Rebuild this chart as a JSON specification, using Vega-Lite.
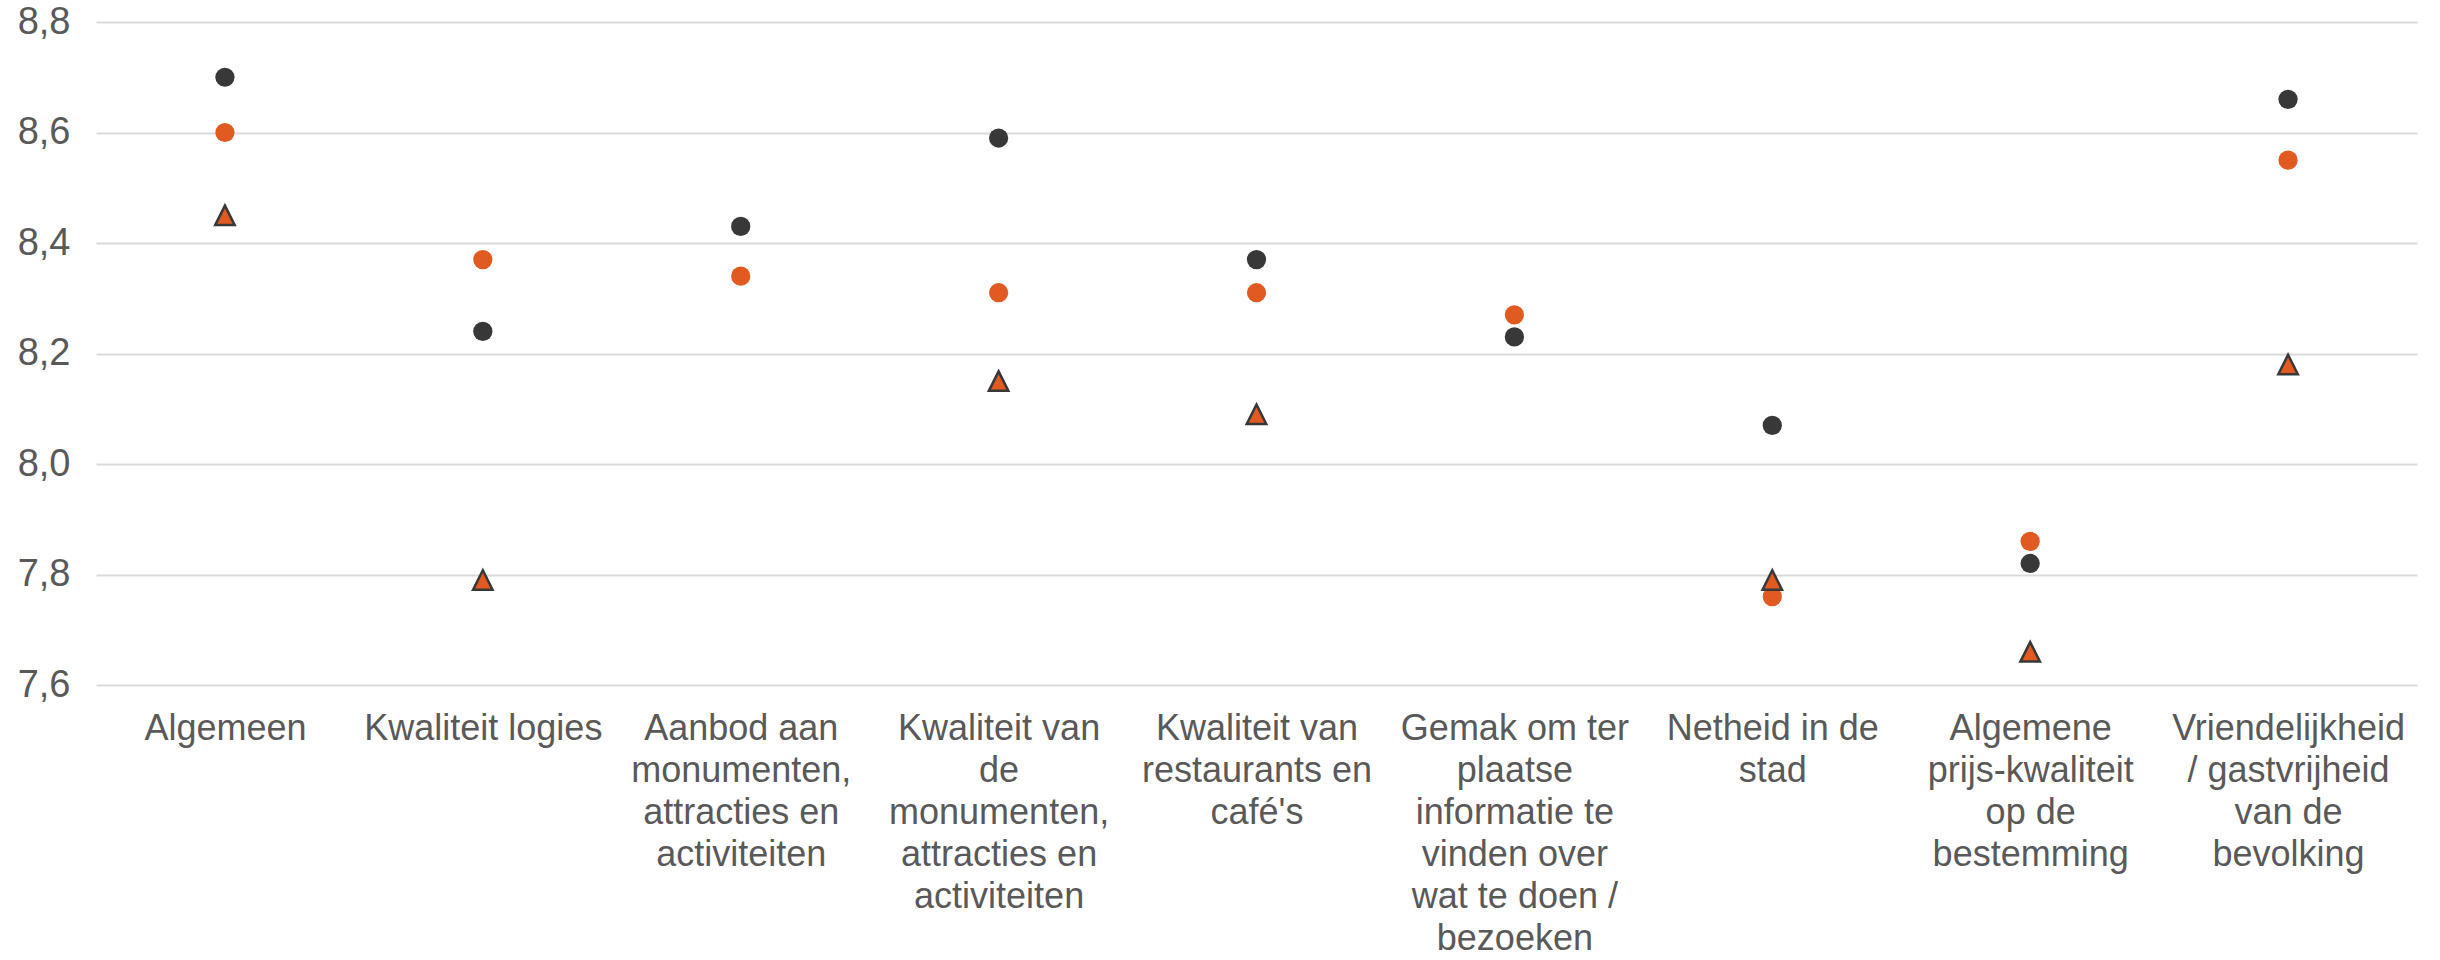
{
  "$schema": "https://vega.github.io/schema/vega-lite/v6.json",
  "autosize": "none",
  "width": 2321,
  "height": 663,
  "padding": {"left": 96, "top": 22, "right": 23, "bottom": 275},
  "background": "white",
  "config": {"view": {"stroke": null}, "font": "Liberation Sans"},
  "data": {
    "values": [
      {"categorie": "Algemeen", "reeks": "A", "waarde": 8.70},
      {"categorie": "Algemeen", "reeks": "B", "waarde": 8.60},
      {"categorie": "Algemeen", "reeks": "C", "waarde": 8.45},
      {"categorie": "Kwaliteit logies", "reeks": "A", "waarde": 8.24},
      {"categorie": "Kwaliteit logies", "reeks": "B", "waarde": 8.37},
      {"categorie": "Kwaliteit logies", "reeks": "C", "waarde": 7.79},
      {"categorie": "Aanbod aan monumenten, attracties en activiteiten", "reeks": "A", "waarde": 8.43},
      {"categorie": "Aanbod aan monumenten, attracties en activiteiten", "reeks": "B", "waarde": 8.34},
      {"categorie": "Kwaliteit van de monumenten, attracties en activiteiten", "reeks": "A", "waarde": 8.59},
      {"categorie": "Kwaliteit van de monumenten, attracties en activiteiten", "reeks": "B", "waarde": 8.31},
      {"categorie": "Kwaliteit van de monumenten, attracties en activiteiten", "reeks": "C", "waarde": 8.15},
      {"categorie": "Kwaliteit van restaurants en café's", "reeks": "A", "waarde": 8.37},
      {"categorie": "Kwaliteit van restaurants en café's", "reeks": "B", "waarde": 8.31},
      {"categorie": "Kwaliteit van restaurants en café's", "reeks": "C", "waarde": 8.09},
      {"categorie": "Gemak om ter plaatse informatie te vinden over wat te doen / bezoeken", "reeks": "A", "waarde": 8.23},
      {"categorie": "Gemak om ter plaatse informatie te vinden over wat te doen / bezoeken", "reeks": "B", "waarde": 8.27},
      {"categorie": "Netheid in de stad", "reeks": "A", "waarde": 8.07},
      {"categorie": "Netheid in de stad", "reeks": "B", "waarde": 7.76},
      {"categorie": "Netheid in de stad", "reeks": "C", "waarde": 7.79},
      {"categorie": "Algemene prijs-kwaliteit op de bestemming", "reeks": "A", "waarde": 7.82},
      {"categorie": "Algemene prijs-kwaliteit op de bestemming", "reeks": "B", "waarde": 7.86},
      {"categorie": "Algemene prijs-kwaliteit op de bestemming", "reeks": "C", "waarde": 7.66},
      {"categorie": "Vriendelijkheid / gastvrijheid van de bevolking", "reeks": "A", "waarde": 8.66},
      {"categorie": "Vriendelijkheid / gastvrijheid van de bevolking", "reeks": "B", "waarde": 8.55},
      {"categorie": "Vriendelijkheid / gastvrijheid van de bevolking", "reeks": "C", "waarde": 8.18}
    ]
  },
  "encoding": {
    "x": {
      "field": "categorie",
      "type": "nominal",
      "sort": null,
      "scale": {
        "domain": [
          "Algemeen",
          "Kwaliteit logies",
          "Aanbod aan monumenten, attracties en activiteiten",
          "Kwaliteit van de monumenten, attracties en activiteiten",
          "Kwaliteit van restaurants en café's",
          "Gemak om ter plaatse informatie te vinden over wat te doen / bezoeken",
          "Netheid in de stad",
          "Algemene prijs-kwaliteit op de bestemming",
          "Vriendelijkheid / gastvrijheid van de bevolking"
        ]
      },
      "axis": {
        "title": null,
        "labelAngle": 0,
        "labelFontSize": 36,
        "labelColor": "#595959",
        "labelLineHeight": 42,
        "labelPadding": 26,
        "labelLimit": 600,
        "labelBaseline": "top",
        "ticks": false,
        "domain": false,
        "grid": false,
        "labelExpr": "indexof(datum.value, 'Aanbod') == 0 ? ['Aanbod aan', 'monumenten,', 'attracties en', 'activiteiten'] : indexof(datum.value, 'Kwaliteit van de') == 0 ? ['Kwaliteit van', 'de', 'monumenten,', 'attracties en', 'activiteiten'] : indexof(datum.value, 'Kwaliteit van r') == 0 ? ['Kwaliteit van', 'restaurants en', 'caf\u00e9\\'s'] : indexof(datum.value, 'Gemak') == 0 ? ['Gemak om ter', 'plaatse', 'informatie te', 'vinden over', 'wat te doen /', 'bezoeken'] : indexof(datum.value, 'Netheid') == 0 ? ['Netheid in de', 'stad'] : indexof(datum.value, 'Algemene') == 0 ? ['Algemene', 'prijs-kwaliteit', 'op de', 'bestemming'] : indexof(datum.value, 'Vriendelijkheid') == 0 ? ['Vriendelijkheid', '/ gastvrijheid', 'van de', 'bevolking'] : datum.value"
      }
    },
    "y": {
      "field": "waarde",
      "type": "quantitative",
      "scale": {"domain": [7.6, 8.8], "zero": false, "nice": false},
      "axis": {
        "title": null,
        "values": [7.6, 7.8, 8.0, 8.2, 8.4, 8.6, 8.8],
        "labelExpr": "replace(format(datum.value, '.1f'), '.', ',')",
        "labelFontSize": 38,
        "labelColor": "#595959",
        "labelPadding": 26,
        "ticks": false,
        "domain": false,
        "grid": true,
        "gridColor": "#D9D9D9",
        "gridWidth": 2
      }
    }
  },
  "layer": [
    {
      "transform": [{"filter": "datum.reeks == 'B'"}],
      "mark": {"type": "point", "shape": "circle", "filled": true, "size": 370, "color": "#E05A22", "opacity": 1}
    },
    {
      "transform": [{"filter": "datum.reeks == 'A'"}],
      "mark": {"type": "point", "shape": "circle", "filled": true, "size": 370, "color": "#383838", "opacity": 1}
    },
    {
      "transform": [{"filter": "datum.reeks == 'C'"}],
      "mark": {"type": "point", "shape": "M0,-1L1,1L-1,1Z", "filled": true, "size": 380, "fill": "#E05A22", "stroke": "#383838", "strokeWidth": 2.5, "opacity": 1, "fillOpacity": 1, "strokeOpacity": 1}
    }
  ]
}
